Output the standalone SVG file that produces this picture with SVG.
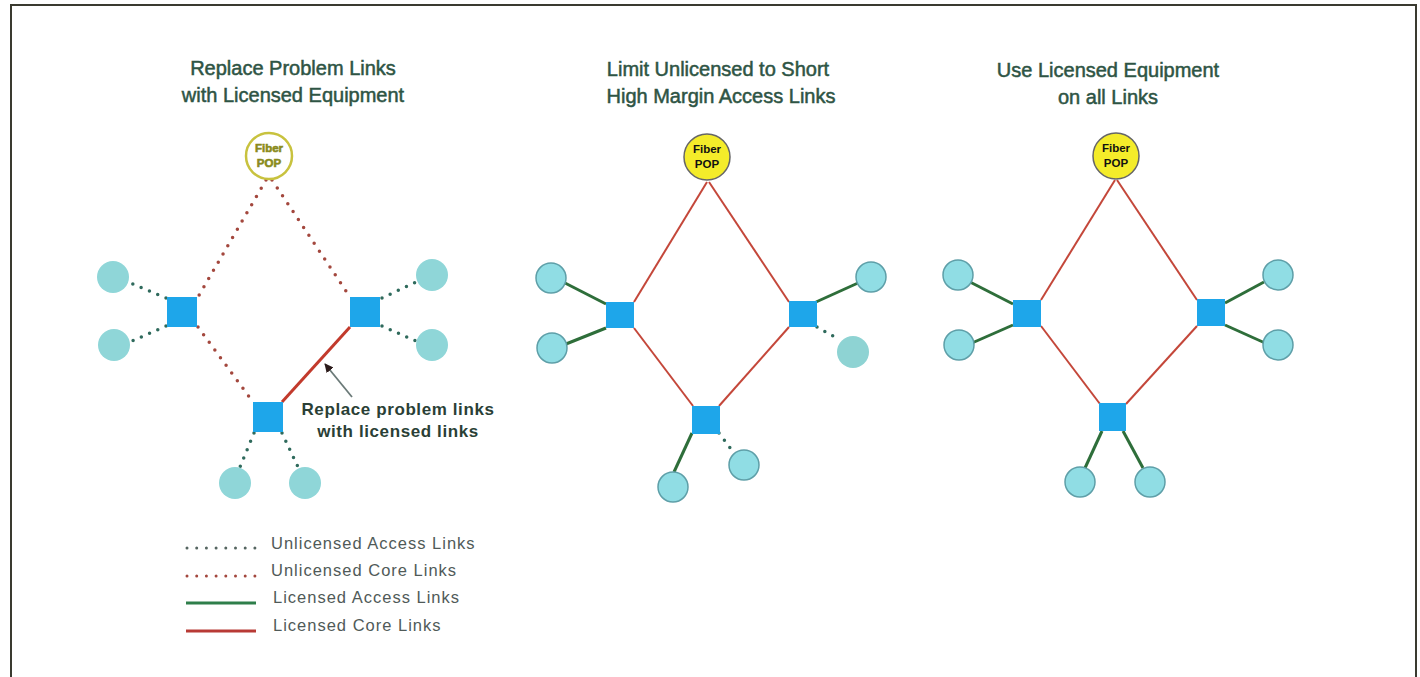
<svg xmlns="http://www.w3.org/2000/svg" width="1420" height="677" viewBox="0 0 1420 677">
<style>
  text { font-family: "Liberation Sans", Arial, sans-serif; }
  .title { font-size: 20px; fill: #2e5444; text-anchor: middle; stroke: #2e5444; stroke-width: 0.5; }
  .legend { font-size: 16.5px; fill: #505a58; letter-spacing: 1px; }
  .note { font-size: 17px; font-weight: bold; fill: #2a3f36; text-anchor: middle; letter-spacing: 0.6px; }
  .pop { font-size: 11.5px; font-weight: bold; fill: #111; text-anchor: middle; }
  .pop1 { font-size: 11.5px; font-weight: bold; fill: #8a8a1c; text-anchor: middle; stroke: #8a8a1c; stroke-width: 0.6; }
  .coreDot { stroke: #a3473d; stroke-width: 3.5; stroke-linecap: round; stroke-dasharray: 0 9.5; fill: none; }
  .accDot { stroke: #2f6a5c; stroke-width: 3.5; stroke-linecap: round; stroke-dasharray: 0 9; fill: none; }
  .accDotL { stroke: #556560; stroke-width: 3; stroke-linecap: round; stroke-dasharray: 0 9.7; fill: none; }
  .coreSolid1 { stroke: #c23a2c; stroke-width: 3; fill: none; }
  .coreSolid { stroke: #c4473a; stroke-width: 2; fill: none; }
  .accSolid { stroke: #2e6e3a; stroke-width: 3; fill: none; }
  .sq { fill: #1ea6ea; }
  .cl { fill: #90dde4; stroke: #5e9fa8; stroke-width: 1.5; }
  .cl1 { fill: #8fd6d8; }
  .clf { fill: #8ed3d3; }
</style>
<defs>
  <marker id="ah" viewBox="0 0 10 10" refX="9" refY="5" markerWidth="5" markerHeight="5" orient="auto-start-reverse">
    <path d="M0,0 L10,5 L0,10 z" fill="#2b1a1a"/>
  </marker>
</defs>

<!-- frame -->
<path d="M11,690 L11,5 L1416,5 L1416,690" fill="none" stroke="#3a3a30" stroke-width="2"/>

<!-- titles -->
<g id="titles">
  <text class="title" x="293" y="75">Replace Problem Links</text>
  <text class="title" x="293" y="102">with Licensed Equipment</text>
  <text class="title" x="718" y="76">Limit Unlicensed to Short</text>
  <text class="title" x="721" y="103">High Margin Access Links</text>
  <text class="title" x="1108" y="77">Use Licensed Equipment</text>
  <text class="title" x="1108" y="104">on all Links</text>
</g>

<!-- connectors -->
<g id="connectors">
  <!-- panel 1 -->
  <line class="coreDot" x1="266" y1="180" x2="198" y2="297"/>
  <line class="coreDot" x1="272" y1="180" x2="350" y2="297"/>
  <line class="coreDot" x1="198" y1="327" x2="253" y2="402"/>
  <line class="coreSolid1" x1="350" y1="327" x2="282" y2="402"/>
  <line class="accDot" x1="166" y1="298" x2="128" y2="282"/>
  <line class="accDot" x1="166" y1="326" x2="130" y2="342"/>
  <line class="accDot" x1="382" y1="298" x2="416" y2="282"/>
  <line class="accDot" x1="382" y1="326" x2="416" y2="341"/>
  <line class="accDot" x1="254" y1="433" x2="240" y2="467"/>
  <line class="accDot" x1="282" y1="433" x2="298" y2="467"/>
  <line x1="352" y1="397" x2="325" y2="364" stroke="#6b7a78" stroke-width="1.8" marker-end="url(#ah)"/>

  <!-- panel 2 -->
  <line class="coreSolid" x1="707" y1="182" x2="634" y2="302"/>
  <line class="coreSolid" x1="709" y1="182" x2="789" y2="302"/>
  <line class="coreSolid" x1="634" y1="328" x2="693" y2="406"/>
  <line class="coreSolid" x1="789" y1="327" x2="719" y2="406"/>
  <line class="accSolid" x1="606" y1="304" x2="565" y2="283"/>
  <line class="accSolid" x1="606" y1="328" x2="566" y2="344"/>
  <line class="accSolid" x1="816" y1="302" x2="858" y2="283"/>
  <line class="accDot" x1="817" y1="327" x2="840" y2="340"/>
  <line class="accSolid" x1="692" y1="433" x2="674" y2="472"/>
  <line class="accDot" x1="719" y1="433" x2="734" y2="453"/>

  <!-- panel 3 -->
  <line class="coreSolid" x1="1115" y1="180" x2="1041" y2="300"/>
  <line class="coreSolid" x1="1117" y1="180" x2="1197" y2="300"/>
  <line class="coreSolid" x1="1041" y1="326" x2="1100" y2="404"/>
  <line class="coreSolid" x1="1197" y1="326" x2="1126" y2="404"/>
  <line class="accSolid" x1="1013" y1="304" x2="970" y2="282"/>
  <line class="accSolid" x1="1013" y1="325" x2="972" y2="343"/>
  <line class="accSolid" x1="1225" y1="303" x2="1264" y2="282"/>
  <line class="accSolid" x1="1225" y1="325" x2="1265" y2="343"/>
  <line class="accSolid" x1="1102" y1="431" x2="1085" y2="468"/>
  <line class="accSolid" x1="1123" y1="431" x2="1143" y2="468"/>
</g>

<!-- panel 1 nodes -->
<g id="p1-pop">
  <circle cx="269" cy="156" r="23" fill="#ffffff" stroke="#c8c23e" stroke-width="2.5"/>
  <text class="pop1" x="269" y="152">Fiber</text>
  <text class="pop1" x="269" y="167">POP</text>
</g>
<g id="p1-hub-left"><rect class="sq" x="167" y="297" width="30" height="30"/></g>
<g id="p1-hub-right"><rect class="sq" x="350" y="297" width="30" height="30"/></g>
<g id="p1-hub-bottom"><rect class="sq" x="253" y="402" width="30" height="30"/></g>
<g id="p1-c1"><circle class="cl1" cx="113" cy="277" r="16"/></g>
<g id="p1-c2"><circle class="cl1" cx="114" cy="345" r="16"/></g>
<g id="p1-c3"><circle class="cl1" cx="432" cy="275" r="16"/></g>
<g id="p1-c4"><circle class="cl1" cx="432" cy="345" r="16"/></g>
<g id="p1-c5"><circle class="cl1" cx="235" cy="483" r="16"/></g>
<g id="p1-c6"><circle class="cl1" cx="305" cy="483" r="16"/></g>
<g id="p1-note">
  <text class="note" x="398" y="415">Replace problem links</text>
  <text class="note" x="398" y="437">with licensed links</text>
</g>

<!-- panel 2 nodes -->
<g id="p2-pop">
  <circle cx="707" cy="157" r="23" fill="#f4ec2a" stroke="#666" stroke-width="1.5"/>
  <text class="pop" x="707" y="153">Fiber</text>
  <text class="pop" x="707" y="168">POP</text>
</g>
<g id="p2-hub-left"><rect class="sq" x="606" y="302" width="28" height="26"/></g>
<g id="p2-hub-right"><rect class="sq" x="789" y="301" width="28" height="26"/></g>
<g id="p2-hub-bottom"><rect class="sq" x="692" y="406" width="28" height="28"/></g>
<g id="p2-c1"><circle class="cl" cx="551" cy="278" r="15"/></g>
<g id="p2-c2"><circle class="cl" cx="552" cy="348" r="15"/></g>
<g id="p2-c3"><circle class="cl" cx="871" cy="277" r="15"/></g>
<g id="p2-c4"><circle class="clf" cx="853" cy="352" r="16"/></g>
<g id="p2-c5"><circle class="cl" cx="673" cy="487" r="15"/></g>
<g id="p2-c6"><circle class="cl" cx="744" cy="465" r="15"/></g>

<!-- panel 3 nodes -->
<g id="p3-pop">
  <circle cx="1116" cy="156" r="23" fill="#f4ec2a" stroke="#666" stroke-width="1.5"/>
  <text class="pop" x="1116" y="152">Fiber</text>
  <text class="pop" x="1116" y="167">POP</text>
</g>
<g id="p3-hub-left"><rect class="sq" x="1013" y="300" width="28" height="27"/></g>
<g id="p3-hub-right"><rect class="sq" x="1197" y="299" width="28" height="27"/></g>
<g id="p3-hub-bottom"><rect class="sq" x="1099" y="403" width="27" height="28"/></g>
<g id="p3-c1"><circle class="cl" cx="958" cy="275" r="15"/></g>
<g id="p3-c2"><circle class="cl" cx="959" cy="345" r="15"/></g>
<g id="p3-c3"><circle class="cl" cx="1278" cy="275" r="15"/></g>
<g id="p3-c4"><circle class="cl" cx="1278" cy="345" r="15"/></g>
<g id="p3-c5"><circle class="cl" cx="1080" cy="482" r="15"/></g>
<g id="p3-c6"><circle class="cl" cx="1150" cy="482" r="15"/></g>

<!-- legend -->
<g id="legend">
  <line class="accDotL" x1="187" y1="548" x2="256" y2="548"/>
  <text class="legend" x="271" y="549">Unlicensed Access Links</text>
  <line class="coreDot" x1="187" y1="576" x2="256" y2="576" style="stroke-width:3;stroke-dasharray:0 9.7"/>
  <text class="legend" x="271" y="576">Unlicensed Core Links</text>
  <line x1="186" y1="603" x2="256" y2="603" stroke="#2e7e4a" stroke-width="3"/>
  <text class="legend" x="273" y="603">Licensed Access Links</text>
  <line x1="186" y1="631" x2="256" y2="631" stroke="#b83a35" stroke-width="3"/>
  <text class="legend" x="273" y="631">Licensed Core Links</text>
</g>
</svg>
